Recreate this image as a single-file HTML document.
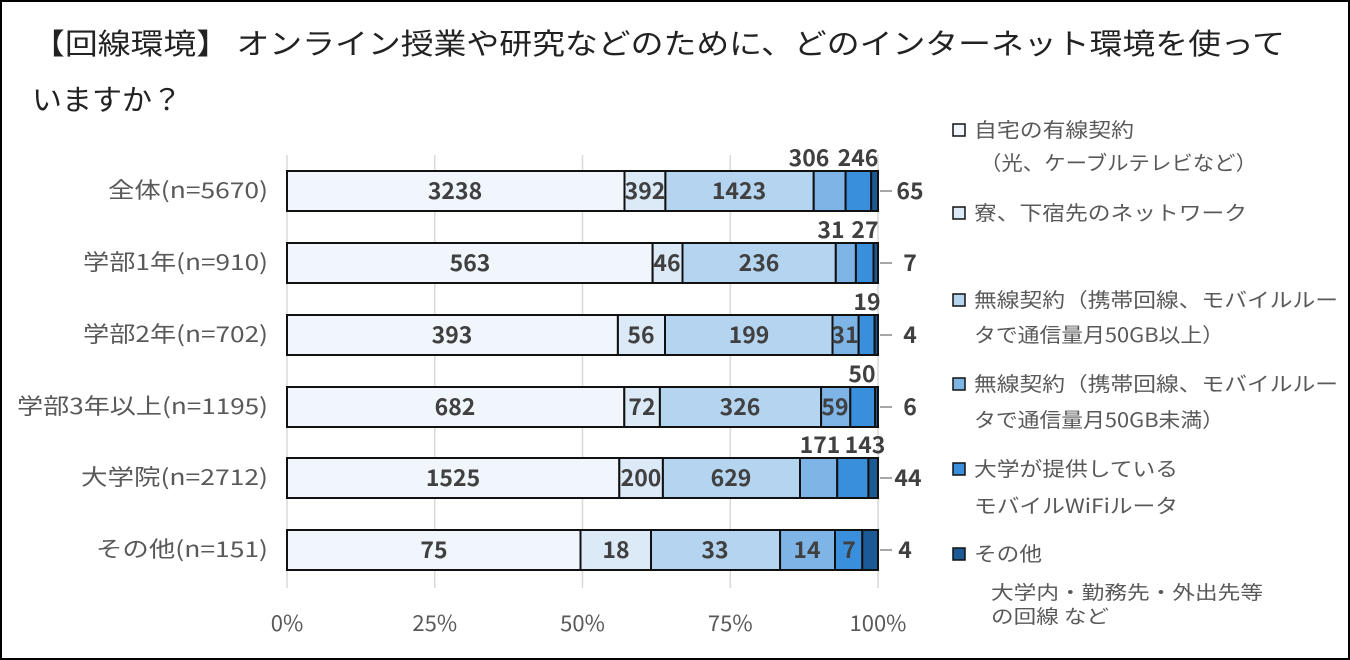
<!DOCTYPE html>
<html><head><meta charset="utf-8"><style>
html,body{margin:0;padding:0;background:#fff}
svg{display:block}
text{font-family:"Noto Sans CJK JP","Liberation Sans",sans-serif}
.n{font-family:"Noto Sans CJK JP","Liberation Sans",sans-serif}
</style></head><body>
<svg width="1350" height="660" viewBox="0 0 1350 660">
<rect x="1" y="1" width="1348" height="658" fill="#fff" stroke="#000" stroke-width="2"/>
<text x="32" y="54" font-size="29" fill="#222" textLength="1253" lengthAdjust="spacingAndGlyphs">【回線環境】 オンライン授業や研究などのために、どのインターネット環境を使って</text>
<text x="32" y="110" font-size="29" fill="#222" textLength="150" lengthAdjust="spacingAndGlyphs">いますか？</text>
<g stroke="#d9d9d9" stroke-width="1.5">
<line x1="287" y1="155" x2="287" y2="588"/><line x1="434.75" y1="155" x2="434.75" y2="588"/><line x1="582.5" y1="155" x2="582.5" y2="588"/><line x1="730.25" y1="155" x2="730.25" y2="588"/><line x1="878" y1="155" x2="878" y2="588"/>
</g>
<g font-size="22" fill="#595959" text-anchor="middle">
<text x="287" y="631">0%</text><text x="434.75" y="631">25%</text><text x="582.5" y="631">50%</text><text x="730.25" y="631">75%</text><text x="878" y="631">100%</text>
</g>
<g font-size="22" fill="#595959" text-anchor="end">
<text x="268" y="198" textLength="160" lengthAdjust="spacingAndGlyphs">全体(n=5670)</text>
<text x="268" y="270" textLength="185" lengthAdjust="spacingAndGlyphs">学部1年(n=910)</text>
<text x="268" y="342" textLength="185" lengthAdjust="spacingAndGlyphs">学部2年(n=702)</text>
<text x="268" y="414" textLength="251" lengthAdjust="spacingAndGlyphs">学部3年以上(n=1195)</text>
<text x="268" y="485" textLength="187" lengthAdjust="spacingAndGlyphs">大学院(n=2712)</text>
<text x="268" y="557" textLength="172" lengthAdjust="spacingAndGlyphs">その他(n=151)</text>
</g>
<g stroke="#111" stroke-width="2">
<rect x="287" y="171" width="337.5" height="40" fill="#f0f6fc"/><rect x="624.5" y="171" width="40.9" height="40" fill="#dce9f6"/><rect x="665.4" y="171" width="148.3" height="40" fill="#b4d4f0"/><rect x="813.7" y="171" width="31.9" height="40" fill="#7fb5e6"/><rect x="845.6" y="171" width="25.6" height="40" fill="#3a8fdc"/><rect x="871.2" y="171" width="6.8" height="40" fill="#1c5a96"/>
<rect x="287" y="243" width="365.6" height="40" fill="#f0f6fc"/><rect x="652.6" y="243" width="29.9" height="40" fill="#dce9f6"/><rect x="682.5" y="243" width="153.3" height="40" fill="#b4d4f0"/><rect x="835.8" y="243" width="20.1" height="40" fill="#7fb5e6"/><rect x="855.9" y="243" width="17.6" height="40" fill="#3a8fdc"/><rect x="873.5" y="243" width="4.5" height="40" fill="#1c5a96"/>
<rect x="287" y="315" width="330.9" height="40" fill="#f0f6fc"/><rect x="617.9" y="315" width="47.1" height="40" fill="#dce9f6"/><rect x="665" y="315" width="167.5" height="40" fill="#b4d4f0"/><rect x="832.5" y="315" width="26.1" height="40" fill="#7fb5e6"/><rect x="858.6" y="315" width="16" height="40" fill="#3a8fdc"/><rect x="874.6" y="315" width="3.4" height="40" fill="#1c5a96"/>
<rect x="287" y="387" width="337.3" height="40" fill="#f0f6fc"/><rect x="624.3" y="387" width="35.6" height="40" fill="#dce9f6"/><rect x="659.9" y="387" width="161.2" height="40" fill="#b4d4f0"/><rect x="821.1" y="387" width="29.2" height="40" fill="#7fb5e6"/><rect x="850.3" y="387" width="24.7" height="40" fill="#3a8fdc"/><rect x="875" y="387" width="3" height="40" fill="#1c5a96"/>
<rect x="287" y="458" width="332.3" height="40" fill="#f0f6fc"/><rect x="619.3" y="458" width="43.6" height="40" fill="#dce9f6"/><rect x="662.9" y="458" width="137.1" height="40" fill="#b4d4f0"/><rect x="800" y="458" width="37.2" height="40" fill="#7fb5e6"/><rect x="837.2" y="458" width="31.2" height="40" fill="#3a8fdc"/><rect x="868.4" y="458" width="9.6" height="40" fill="#1c5a96"/>
<rect x="287" y="530" width="293.5" height="40" fill="#f0f6fc"/><rect x="580.5" y="530" width="70.5" height="40" fill="#dce9f6"/><rect x="651" y="530" width="129.1" height="40" fill="#b4d4f0"/><rect x="780.1" y="530" width="54.9" height="40" fill="#7fb5e6"/><rect x="835" y="530" width="27.3" height="40" fill="#3a8fdc"/><rect x="862.3" y="530" width="15.7" height="40" fill="#1c5a96"/>
</g>
<g stroke="#888" stroke-width="1.5">
<line x1="880" y1="191" x2="892" y2="191"/><line x1="880" y1="263" x2="892" y2="263"/><line x1="880" y1="335" x2="892" y2="335"/><line x1="880" y1="407" x2="892" y2="407"/><line x1="880" y1="478" x2="892" y2="478"/><line x1="880" y1="550" x2="892" y2="550"/>
</g>
<g class="n" font-size="23" font-weight="bold" fill="#404040" text-anchor="middle">
<text x="455" y="199">3238</text><text x="645" y="199">392</text><text x="739" y="199">1423</text>
<text x="809" y="166">306</text><text x="858" y="166">246</text><text x="910" y="199">65</text>
<text x="470" y="271">563</text><text x="667" y="271">46</text><text x="759" y="271">236</text>
<text x="831" y="238">31</text><text x="865" y="238">27</text><text x="910" y="271">7</text>
<text x="452" y="343">393</text><text x="641" y="343">56</text><text x="749" y="343">199</text><text x="845" y="343">31</text>
<text x="867" y="310">19</text><text x="910" y="343">4</text>
<text x="455" y="415">682</text><text x="642" y="415">72</text><text x="740" y="415">326</text><text x="835" y="415">59</text>
<text x="862" y="382">50</text><text x="910" y="415">6</text>
<text x="453" y="486">1525</text><text x="641" y="486">200</text><text x="731" y="486">629</text>
<text x="820" y="453">171</text><text x="865" y="453">143</text><text x="908" y="486">44</text>
<text x="434" y="558">75</text><text x="616" y="558">18</text><text x="715" y="558">33</text><text x="807" y="558">14</text><text x="849" y="558">7</text><text x="905" y="558">4</text>
</g>
<g stroke="#111" stroke-width="1.5">
<rect x="953" y="124" width="12" height="12" fill="#f0f6fc"/>
<rect x="953" y="207" width="12" height="12" fill="#dce9f6"/>
<rect x="953" y="294" width="12" height="12" fill="#b4d4f0"/>
<rect x="953" y="378" width="12" height="12" fill="#7fb5e6"/>
<rect x="953" y="463" width="12" height="12" fill="#3a8fdc"/>
<rect x="953" y="548" width="12" height="12" fill="#1c5a96"/>
</g>
<g font-size="20" fill="#595959" lengthAdjust="spacingAndGlyphs">
<text x="974" y="137" textLength="160" lengthAdjust="spacingAndGlyphs">自宅の有線契約</text>
<text x="980" y="170" textLength="277" lengthAdjust="spacingAndGlyphs">（光、ケーブルテレビなど）</text>
<text x="974" y="220" textLength="273" lengthAdjust="spacingAndGlyphs">寮、下宿先のネットワーク</text>
<text x="974" y="307" textLength="364" lengthAdjust="spacingAndGlyphs">無線契約（携帯回線、モバイルルー</text>
<text x="974" y="342" textLength="250" lengthAdjust="spacingAndGlyphs">タで通信量月50GB以上）</text>
<text x="974" y="391" textLength="364" lengthAdjust="spacingAndGlyphs">無線契約（携帯回線、モバイルルー</text>
<text x="974" y="427" textLength="250" lengthAdjust="spacingAndGlyphs">タで通信量月50GB未満）</text>
<text x="974" y="476" textLength="204" lengthAdjust="spacingAndGlyphs">大学が提供している</text>
<text x="974" y="513" textLength="204" lengthAdjust="spacingAndGlyphs">モバイルWiFiルータ</text>
<text x="974" y="561" textLength="68" lengthAdjust="spacingAndGlyphs">その他</text>
<text x="991" y="599" font-size="19" textLength="272" lengthAdjust="spacingAndGlyphs">大学内・勤務先・外出先等</text>
<text x="991" y="623" font-size="19" textLength="118" lengthAdjust="spacingAndGlyphs">の回線 など</text>
</g>
</svg>
</body></html>
